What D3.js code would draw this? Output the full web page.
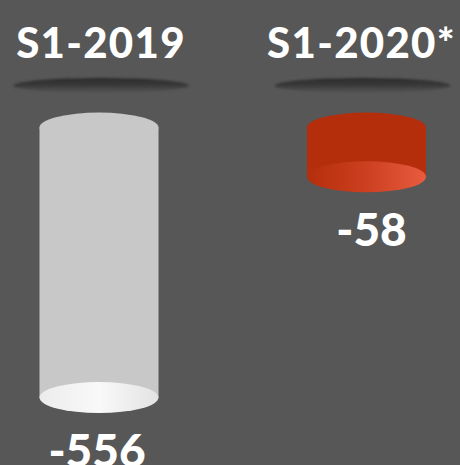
<!DOCTYPE html>
<html>
<head>
<meta charset="utf-8">
<script src="https://cdn.jsdelivr.net/npm/d3@7"></script>
<style>
  html, body { margin: 0; padding: 0; background: #575757; }
  svg { display: block; }
</style>
</head>
<body>
<svg id="chart" width="460" height="465"></svg>
<script>
// datos
const periods = ["S1-2019", "S1-2020*"];
const values = [-556, -58];
const bodyColors = ["#c8c8c8", "#b52e0b"];
const baseColors = [["#ececec", "#f9f9f9", "#e3e3e3"], ["#b52e0b", "#cc4020", "#e85b3f"]];

const svg = d3.select("#chart");

const x = d3.scalePoint()
  .domain(periods)
  .range([99, 366.5]);

// escala vertical: el cilindro cuelga hacia abajo
const y = d3.scaleLinear()
  .domain([0, -556])
  .range([151, 397.5]);

const topY = 127.5;
const rx = 59.5, ry = 15;

const defs = svg.append("defs");

// sombra bajo los titulos
const sh = defs.append("linearGradient")
  .attr("id", "shadow")
  .attr("x1", 0).attr("y1", 0).attr("x2", 0).attr("y2", 1);
sh.append("stop").attr("offset", "0%").attr("stop-color", "#2b2b2b");
sh.append("stop").attr("offset", "45%").attr("stop-color", "#383838");
sh.append("stop").attr("offset", "100%").attr("stop-color", "#575757");

defs.append("filter").attr("id", "blur")
  .append("feGaussianBlur").attr("stdDeviation", 0.8);

periods.forEach((p, i) => {
  const g = defs.append("linearGradient")
    .attr("id", "base" + i)
    .attr("x1", 0).attr("y1", 0).attr("x2", 1).attr("y2", 0);
  g.append("stop").attr("offset", "0%").attr("stop-color", baseColors[i][0]);
  g.append("stop").attr("offset", "50%").attr("stop-color", baseColors[i][1]);
  g.append("stop").attr("offset", "100%").attr("stop-color", baseColors[i][2]);
});

const groups = svg.selectAll("g.period")
  .data(periods)
  .join("g")
  .attr("class", "period");

// titulos
groups.append("text")
  .attr("x", (d, i) => x(d) + (i === 0 ? 2 : -5))
  .attr("y", 58)
  .attr("text-anchor", "middle")
  .attr("fill", "#ffffff")
  .attr("font-family", "Lato, 'Open Sans', sans-serif")
  .attr("font-weight", 900)
  .attr("font-size", 42)
  .attr("letter-spacing", 1.3)
  .text(d => d);

// sombras
groups.append("ellipse")
  .attr("cx", (d, i) => x(d) + (i === 0 ? 2 : -4))
  .attr("cy", 85.5)
  .attr("rx", 88)
  .attr("ry", 7.5)
  .attr("fill", "url(#shadow)")
  .attr("filter", "url(#blur)");

// cuerpo del cilindro
groups.append("rect")
  .attr("x", d => x(d) - rx)
  .attr("y", topY)
  .attr("width", rx * 2)
  .attr("height", (d, i) => y(values[i]) - topY)
  .attr("fill", (d, i) => bodyColors[i]);

groups.append("ellipse")
  .attr("cx", d => x(d))
  .attr("cy", topY)
  .attr("rx", rx)
  .attr("ry", ry)
  .attr("fill", (d, i) => bodyColors[i]);

groups.append("ellipse")
  .attr("cx", d => x(d))
  .attr("cy", (d, i) => y(values[i]))
  .attr("rx", rx)
  .attr("ry", 15.5)
  .attr("fill", (d, i) => "url(#base" + i + ")");

// etiquetas de valor
groups.append("text")
  .attr("x", (d, i) => x(d) + (i === 0 ? -2 : 5))
  .attr("y", (d, i) => y(values[i]) + 69)
  .attr("text-anchor", "middle")
  .attr("fill", "#ffffff")
  .attr("font-family", "Lato, 'Open Sans', sans-serif")
  .attr("font-weight", 900)
  .attr("font-size", 46)
  .text((d, i) => values[i]);
</script>
</body>
</html>
